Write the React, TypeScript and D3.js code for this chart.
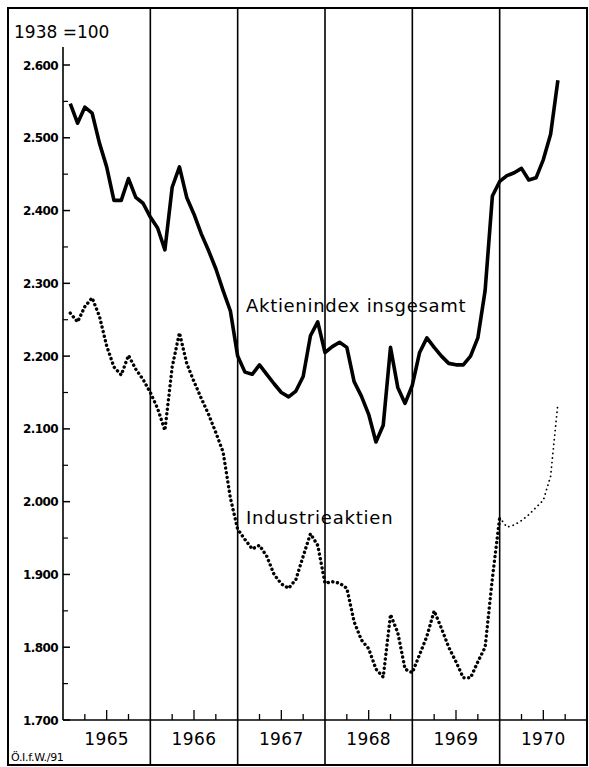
import React, { useRef, useEffect } from "react";
import * as d3 from "d3";

// Monatswerte Jan 1965 - Aug 1970, 1938 = 100
const years = ["1965", "1966", "1967", "1968", "1969", "1970"];
const gesamt = [
  2547, 2520, 2542, 2534, 2493, 2460, 2414, 2414, 2444, 2418, 2410, 2391,
  2376, 2346, 2432, 2460, 2418, 2395, 2368, 2345, 2320, 2290, 2262, 2200,
  2178, 2175, 2188, 2175, 2162, 2150, 2144, 2152, 2172, 2228, 2247, 2205,
  2213, 2219, 2212, 2165, 2145, 2120, 2082, 2105, 2212, 2157, 2135, 2160,
  2205, 2225, 2212, 2200, 2190, 2188, 2188, 2200, 2225, 2290, 2420, 2440,
  2448, 2452, 2458, 2442, 2445, 2470, 2505, 2579,
];
const industrie = [
  2259, 2247, 2268, 2280, 2255, 2214, 2185, 2174, 2201, 2182, 2168, 2150,
  2128, 2098, 2185, 2232, 2190, 2165, 2142, 2120, 2095, 2068, 2005, 1962,
  1948, 1935, 1940, 1925, 1900, 1887, 1881, 1893, 1925, 1956, 1940, 1888,
  1890, 1888, 1881, 1835, 1810, 1798, 1770, 1759, 1845, 1820, 1770, 1765,
  1790, 1815, 1850, 1826, 1800, 1780, 1758, 1758, 1780, 1800, 1895, 1978,
  1965, 1968, 1974, 1982, 1992, 2002, 2035, 2135,
];
const yTicks = [1700, 1800, 1900, 2000, 2100, 2200, 2300, 2400, 2500, 2600];
const yMinor = [1750, 1850, 1950, 2050, 2150, 2250, 2350, 2450, 2550];

const W = 589;
const H = 767;
const font = "'DejaVu Sans', 'Liberation Sans', sans-serif";

const fmt = (v: number) => {
  const s = String(v);
  return s.slice(0, 1) + "." + s.slice(1);
};

export default function App() {
  const ref = useRef<SVGSVGElement>(null);

  useEffect(() => {
    const svg = d3.select(ref.current);
    svg.selectAll("*").remove();

    const x = d3.scaleLinear().domain([0, 72]).range([63, 587]);
    const y = d3.scaleLinear().domain([1700, 2600]).range([720, 65]);
    const top = 8;
    const bottom = 765;

    // Rahmen
    svg.append("rect")
      .attr("x", 8).attr("y", top)
      .attr("width", 579).attr("height", bottom - top)
      .attr("fill", "none").attr("stroke", "#000").attr("stroke-width", 2);

    // Jahresgrenzen
    svg.selectAll("line.year")
      .data(d3.range(1, years.length))
      .enter().append("line")
      .attr("class", "year")
      .attr("x1", (d) => x(d * 12)).attr("x2", (d) => x(d * 12))
      .attr("y1", top).attr("y2", bottom)
      .attr("stroke", "#000").attr("stroke-width", 1.6);

    // y-Achse
    svg.append("line")
      .attr("x1", 63).attr("x2", 63).attr("y1", 47).attr("y2", 720)
      .attr("stroke", "#000").attr("stroke-width", 1.6);
    svg.selectAll("line.ymaj").data(yTicks).enter().append("line")
      .attr("x1", 63).attr("x2", 70)
      .attr("y1", (d) => y(d)).attr("y2", (d) => y(d))
      .attr("stroke", "#000").attr("stroke-width", 1.5);
    svg.selectAll("line.ymin").data(yMinor).enter().append("line")
      .attr("x1", 63).attr("x2", 68)
      .attr("y1", (d) => y(d)).attr("y2", (d) => y(d))
      .attr("stroke", "#000").attr("stroke-width", 1.2);
    svg.selectAll("text.ylab").data(yTicks).enter().append("text")
      .attr("x", 58).attr("y", (d) => y(d) + 4.5)
      .attr("text-anchor", "end")
      .attr("font-family", font).attr("font-size", 12).attr("font-weight", 700)
      .attr("letter-spacing", -0.6)
      .text((d) => fmt(d));

    // x-Achse
    svg.append("line")
      .attr("x1", 63).attr("x2", 587).attr("y1", 720).attr("y2", 720)
      .attr("stroke", "#000").attr("stroke-width", 1.6);
    const quarters = d3.range(years.length * 4).filter((q) => q % 4 !== 0);
    svg.selectAll("line.q").data(quarters).enter().append("line")
      .attr("x1", (d) => x(d * 3)).attr("x2", (d) => x(d * 3))
      .attr("y1", 720).attr("y2", (d) => (d % 4 === 2 ? 710 : 714))
      .attr("stroke", "#000").attr("stroke-width", 1.3);
    svg.selectAll("text.yr").data(years).enter().append("text")
      .attr("x", (d, i) => x(i * 12 + 6)).attr("y", 745)
      .attr("text-anchor", "middle")
      .attr("font-family", font).attr("font-size", 17).attr("letter-spacing", 0.4)
      .text((d) => d);

    // Linien
    const line = d3.line<number>()
      .x((d, i) => x(i + 1))
      .y((d) => y(d));
    svg.append("path")
      .attr("d", line(gesamt))
      .attr("fill", "none").attr("stroke", "#000")
      .attr("stroke-width", 3.6).attr("stroke-linejoin", "round");

    const split = 60;
    const dotLine = d3.line<[number, number]>()
      .x((d) => x(d[0] + 1))
      .y((d) => y(d[1]));
    const pts: [number, number][] = industrie.map((v, i) => [i, v]);
    svg.append("path")
      .attr("d", dotLine(pts.slice(0, split)))
      .attr("fill", "none").attr("stroke", "#000")
      .attr("stroke-width", 3.4).attr("stroke-linecap", "round")
      .attr("stroke-dasharray", "0.1 4.6");
    svg.append("path")
      .attr("d", dotLine(pts.slice(split - 1)))
      .attr("fill", "none").attr("stroke", "#000")
      .attr("stroke-width", 1.8).attr("stroke-linecap", "round")
      .attr("stroke-dasharray", "0.1 4.5");

    // Beschriftung
    svg.append("text")
      .attr("x", 14).attr("y", 38)
      .attr("font-family", font).attr("font-size", 17)
      .text("1938 =100");
    svg.append("text")
      .attr("x", 246).attr("y", 312)
      .attr("font-family", font).attr("font-size", 18).attr("letter-spacing", 0.7)
      .text("Aktienindex insgesamt");
    svg.append("text")
      .attr("x", 246).attr("y", 524)
      .attr("font-family", font).attr("font-size", 18).attr("letter-spacing", 0.8)
      .text("Industrieaktien");
    svg.append("text")
      .attr("x", 11).attr("y", 761)
      .attr("font-family", font).attr("font-size", 11).attr("letter-spacing", -0.3)
      .text("Ö.I.f.W./91");
  }, []);

  return (
    <svg
      ref={ref}
      width={W}
      height={H}
      style={{ position: "absolute", left: 0, top: 0, background: "#fff" }}
    />
  );
}
